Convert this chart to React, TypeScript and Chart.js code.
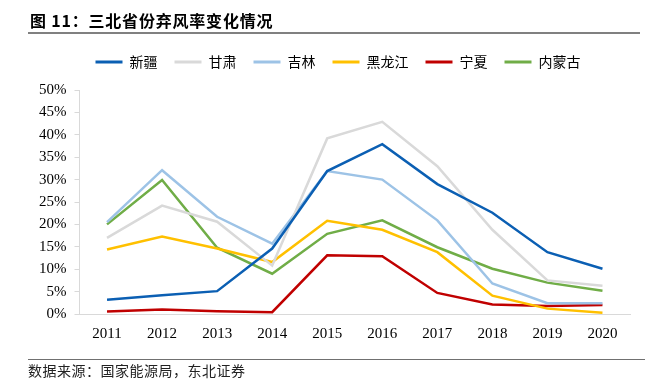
import React, { useEffect, useRef } from "react";
import { Chart, registerables } from "chart.js";

Chart.register(...registerables);

const years = ["2011", "2012", "2013", "2014", "2015", "2016", "2017", "2018", "2019", "2020"];
const xinjiang = [3.2, 4.2, 5.1, 14.6, 31.9, 37.9, 29.0, 22.6, 13.8, 10.1];
const gansu = [17.0, 24.2, 20.6, 10.8, 39.2, 42.9, 33.0, 18.8, 7.5, 6.3];
const jilin = [20.5, 32.1, 21.7, 15.7, 31.9, 30.0, 20.9, 6.8, 2.4, 2.4];
const heilongjiang = [14.4, 17.3, 14.6, 11.6, 20.8, 18.8, 13.8, 4.1, 1.2, 0.3];
const ningxia = [0.55, 1.0, 0.6, 0.4, 13.1, 12.9, 4.7, 2.1, 1.8, 2.0];
const neimenggu = [20.0, 29.9, 14.8, 9.0, 17.9, 20.9, 14.9, 10.1, 7.0, 5.2];
const seriesNames = ["新疆", "甘肃", "吉林", "黑龙江", "宁夏", "内蒙古"];
const seriesColors = ["#0B5FB3", "#D9D9D9", "#9DC3E6", "#FFC000", "#C00000", "#70AD47"];
const yMin = 0;
const yMax = 50;
const yStep = 5;

const titleText = "图 11：三北省份弃风率变化情况";
const sourceText = "数据来源：国家能源局，东北证券";

const legendTweak = {
  id: "legendTweak",
  afterInit(chart: any) {
    const lg = chart.legend;
    if (!lg) return;
    const orig = lg.fit;
    lg.fit = function () {
      orig.call(this);
      this.height += 11;
    };
  },
  afterLayout(chart: any) {
    const lg = chart.legend;
    if (!lg) return;
    lg.left += 23;
    lg.right += 23;
  },
};

export default function App() {
  const ref = useRef<HTMLCanvasElement>(null);

  useEffect(() => {
    document.body.style.margin = "0";
    const all = [xinjiang, gansu, jilin, heilongjiang, ningxia, neimenggu];
    const chart = new Chart(ref.current!, {
      type: "line",
      data: {
        labels: years,
        datasets: all.map((d, i) => ({
          label: seriesNames[i],
          data: d,
          borderColor: seriesColors[i],
          backgroundColor: seriesColors[i],
          borderWidth: 2.5,
          pointRadius: 0,
          tension: 0,
        })),
      },
      plugins: [legendTweak],
      options: {
        animation: false,
        responsive: false,
        layout: { padding: { left: 0, right: 33, top: 38, bottom: 47 } },
        plugins: {
          tooltip: { enabled: false },
          legend: {
            position: "top",
            labels: {
              boxWidth: 27,
              boxHeight: 3,
              padding: 17,
              color: "#000",
              font: { family: "'Noto Sans CJK SC'", size: 14 },
              generateLabels: (c: any) =>
                (Chart.defaults.plugins.legend.labels as any)
                  .generateLabels(c)
                  .map((l: any) => ({ ...l, lineWidth: 0, fillStyle: l.strokeStyle })),
            },
          },
        },
        scales: {
          x: {
            offset: true,
            grid: { display: false, drawTicks: false },
            border: { color: "#D9D9D9", width: 1 },
            ticks: {
              color: "#000",
              padding: 11,
              maxRotation: 0,
              font: { family: "'Liberation Serif'", size: 15 },
            },
            afterFit: (s: any) => {
              s.height = 30;
            },
          },
          y: {
            min: yMin,
            max: yMax,
            grid: { display: true, drawOnChartArea: false, drawTicks: true, tickLength: 5, color: "#D9D9D9" },
            border: { color: "#D9D9D9", width: 1 },
            ticks: {
              stepSize: yStep,
              color: "#000",
              padding: 8,
              font: { family: "'Liberation Serif'", size: 15 },
              callback: (v: any) => v + "%",
            },
            afterFit: (s: any) => {
              s.width = 79.5;
            },
          },
        },
      },
    });
    return () => chart.destroy();
  }, []);

  return (
    <div style={{ position: "fixed", left: 0, top: 0, width: 663, height: 391, background: "#fff" }}>
      <canvas ref={ref} width={663} height={391} style={{ position: "absolute", left: 0, top: 0, width: 663, height: 391 }} />
      <div
        style={{
          position: "absolute",
          left: 30,
          top: 9,
          fontFamily: "'Noto Sans CJK SC'",
          fontWeight: 700,
          fontSize: 16,
          color: "#000",
          whiteSpace: "pre",
          lineHeight: "22px",
          letterSpacing: 0.8,
        }}
      >
        {titleText}
      </div>
      <div style={{ position: "absolute", left: 28, top: 31.5, width: 612, height: 2, background: "#808080" }} />
      <div style={{ position: "absolute", left: 28, top: 358.5, width: 617, height: 1.5, background: "#707070" }} />
      <div
        style={{
          position: "absolute",
          left: 28,
          top: 361,
          fontFamily: "'Noto Sans CJK SC'",
          fontSize: 14,
          color: "#222",
          lineHeight: "18px",
          letterSpacing: 0.5,
        }}
      >
        {sourceText}
      </div>
    </div>
  );
}
